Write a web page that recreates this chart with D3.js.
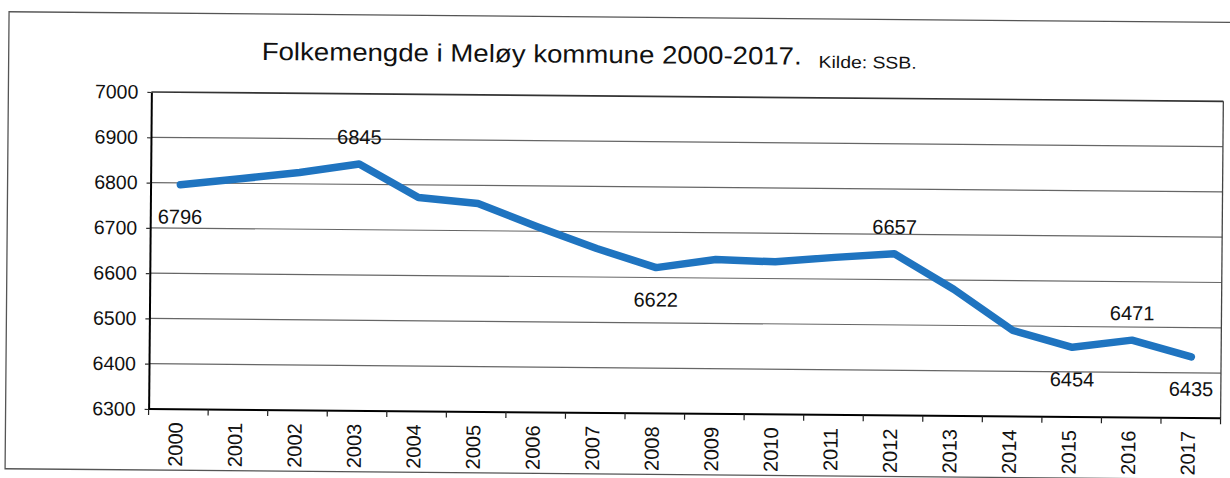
<!DOCTYPE html>
<html>
<head>
    <meta charset="utf-8">
    <title>Folkemengde i Meløy kommune 2000-2017</title>
    <style type="text/css">
        body { margin: 0; background: #fff; }
        svg text { font-family: "Liberation Sans", Arial, sans-serif; fill: #111; }

        .grid line { stroke: #666; stroke-width: 1.2; }
        .yscale path { stroke: #000; stroke-width: 2; }
        .yscale line { stroke: #333; stroke-width: 1.2; }
        .yscale text { font-size: 19.5px; }
        .xscale text { font-size: 20px; }
        .pop-line { fill: none; stroke: #1f74c0; stroke-width: 7.5; stroke-linejoin: round; stroke-linecap: round; }
        .pop-label { font-size: 20px; text-anchor: middle; }
    </style>
</head>
<body>
<script src="https://d3js.org/d3.v7.min.js"></script>
<script>

    // data
    var years = [2000, 2001, 2002, 2003, 2004, 2005, 2006, 2007, 2008,
                 2009, 2010, 2011, 2012, 2013, 2014, 2015, 2016, 2017];
    var population = [6796, 6810, 6825, 6845, 6772, 6760, 6710, 6663, 6622,
                      6641, 6637, 6648, 6657, 6580, 6490, 6454, 6471, 6435];

    // which points carry a value label, and on which side
    var labelYears = [2000, 2003, 2008, 2012, 2015, 2016, 2017];
    var labelSide  = ["below", "above", "below", "above", "below", "above", "below"];

    var yTicks = [6300, 6400, 6500, 6600, 6700, 6800, 6900, 7000];

    var margin = {top: 92, right: 8, bottom: 69, left: 150},
        width  = 1230 - margin.left - margin.right,
        height = 478 - margin.top - margin.bottom;

    var data = years.map(function(d, i){ return {year: d, value: population[i]}; });

    var svg = d3.select("body")
        .append("svg")
        .attr("width", 1230)
        .attr("height", 478);

    // the scanned page is a little crooked
    var page = svg.append("g")
        .attr("transform", "rotate(0.5, 150, 250)");

    // outer chart frame
    page.append("rect")
        .attr("x", 7)
        .attr("y", 13)
        .attr("width", 1300)
        .attr("height", 457)
        .attr("fill", "none")
        .attr("stroke", "#555")
        .attr("stroke-width", 1.3);

    // title
    page.append("text")
        .attr("x", 260)
        .attr("y", 59)
        .attr("textLength", 540)
        .attr("lengthAdjust", "spacingAndGlyphs")
        .style("font-size", "25px")
        .text("Folkemengde i Meløy kommune 2000-2017.");

    page.append("text")
        .attr("x", 817)
        .attr("y", 62)
        .attr("textLength", 98)
        .attr("lengthAdjust", "spacingAndGlyphs")
        .style("font-size", "17px")
        .text("Kilde: SSB.");

    var chart = page.append("g")
        .attr("transform", "translate(" + margin.left + "," + margin.top + ")");

    var xScale = d3.scaleBand()
        .domain(years)
        .range([0, width]);

    var yScale = d3.scaleLinear()
        .domain([6300, 7000])
        .range([height, 0]);

    // horizontal gridlines
    chart.append("g")
        .attr("class", "grid")
        .selectAll("line")
        .data(yTicks.slice(1))
        .enter()
        .append("line")
        .attr("x1", 0)
        .attr("x2", width)
        .attr("y1", function(d){ return yScale(d); })
        .attr("y2", function(d){ return yScale(d); })
        .style("stroke", function(d){ return d === 7000 ? "#333" : null; })
        .style("stroke-width", function(d){ return d === 7000 ? 1.6 : null; });

    // right edge of the plot area
    chart.append("line")
        .attr("x1", width).attr("x2", width)
        .attr("y1", 0).attr("y2", height)
        .attr("stroke", "#444")
        .attr("stroke-width", 1.3);

    // y axis
    chart.append("g")
        .attr("class", "yscale")
        .call(d3.axisLeft(yScale).tickValues(yTicks).tickSize(4).tickSizeOuter(0).tickPadding(9).tickFormat(d3.format("d")));

    // x axis: ticks sit on the category boundaries, labels turned upright
    var xAxis = chart.append("g")
        .attr("class", "xscale")
        .attr("transform", "translate(0," + height + ")");

    xAxis.append("line")
        .attr("x1", 0).attr("x2", width)
        .attr("stroke", "#000")
        .attr("stroke-width", 2);

    xAxis.selectAll(".xtick")
        .data(years.concat([null]))
        .enter()
        .append("line")
        .attr("class", "xtick")
        .attr("x1", function(d){ return d === null ? width : xScale(d); })
        .attr("x2", function(d){ return d === null ? width : xScale(d); })
        .attr("y1", 0)
        .attr("y2", 6)
        .attr("stroke", "#222")
        .attr("stroke-width", 1.2);

    xAxis.selectAll(".xlabel")
        .data(years)
        .enter()
        .append("text")
        .attr("class", "xlabel")
        .attr("transform", function(d){
            return "translate(" + (xScale(d) + xScale.bandwidth() / 2 - 3) + ",13) rotate(-90)";
        })
        .attr("dy", "0.36em")
        .style("text-anchor", "end")
        .text(function(d){ return d; });

    // population line
    var line = d3.line()
        .x(function(d){ return xScale(d.year) + xScale.bandwidth() / 2; })
        .y(function(d){ return yScale(d.value); });

    chart.append("path")
        .datum(data)
        .attr("class", "pop-line")
        .attr("d", line);

    // value labels
    var labelled = data.filter(function(d){ return labelYears.indexOf(d.year) >= 0; });

    chart.selectAll(".pop-label")
        .data(labelled)
        .enter()
        .append("text")
        .attr("class", "pop-label")
        .attr("x", function(d){ return xScale(d.year) + xScale.bandwidth() / 2; })
        .attr("y", function(d){
            var side = labelSide[labelYears.indexOf(d.year)];
            return yScale(d.value) + (side === "above" ? -27 : 32);
        })
        .attr("dy", "0.35em")
        .text(function(d){ return d.value; });

</script>
</body>
</html>
